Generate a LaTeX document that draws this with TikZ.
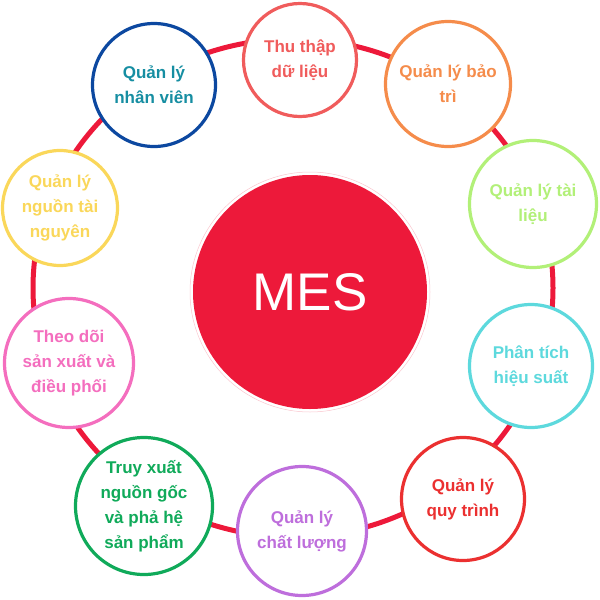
\documentclass[tikz,border=0pt]{standalone}
\usepackage{fontspec}
\setmainfont{Liberation Sans}

\definecolor{mesred}{RGB}{237,25,58}
\definecolor{cthu}{RGB}{240,92,92}
\definecolor{cbao}{RGB}{245,140,75}
\definecolor{ctai}{RGB}{178,240,120}
\definecolor{cphan}{RGB}{93,217,221}
\definecolor{cquy}{RGB}{235,48,48}
\definecolor{cchat}{RGB}{190,110,220}
\definecolor{ctruy}{RGB}{16,170,90}
\definecolor{ctheo}{RGB}{244,110,190}
\definecolor{cnguon}{RGB}{250,215,90}
\definecolor{cnhan}{RGB}{12,72,160}
\definecolor{cnhantext}{RGB}{22,142,162}

\begin{document}
\begin{tikzpicture}[x=1pt,y=-1pt,
  item/.style={circle, draw, fill=white, line width=3.2pt, align=center,
    inner sep=0pt, font=\bfseries\fontsize{17}{25}\selectfont},
  ring/.style={draw=mesred, line width=5pt}]
  \useasboundingbox (0,0) rectangle (600,600);

  % ring behind the circles
  \coordinate (ringc) at (293,288);
  \draw[ring] (ringc) ellipse [x radius=260pt, y radius=249pt];

  % centre
  \node[circle, fill=mesred, minimum size=234pt, inner sep=0pt, text=white,
    font=\fontsize{53}{60}\selectfont] (mes) at (310,292) {MES};
  \draw[mesred!25, line width=0.5pt] (mes.center) circle [radius=120pt];

  % items
  \node[item, draw=cthu, text=cthu, minimum size=113pt] (thuthap) at (300,60) {Thu thập\\dữ liệu};
  \node[item, draw=cbao, text=cbao, minimum size=125pt] (baotri) at (448,84) {Quản lý bảo\\trì};
  \node[item, draw=ctai, text=ctai, minimum size=127pt] (tailieu) at (533,204) {Quản lý tài\\liệu};
  \node[item, draw=cphan, text=cphan, minimum size=123pt] (phantich) at (531,366) {Phân tích\\hiệu suất};
  \node[item, draw=cquy, text=cquy, minimum size=123pt] (quytrinh) at (463,499) {Quản lý\\quy trình};
  \node[item, draw=cchat, text=cchat, minimum size=129pt] (chatluong) at (302,531) {Quản lý\\chất lượng};
  \node[item, draw=ctruy, text=ctruy, minimum size=137pt] (truyxuat) at (144,506) {Truy xuất\\nguồn gốc\\và phả hệ\\sản phẩm};
  \node[item, draw=ctheo, text=ctheo, minimum size=129pt] (theodoi) at (69,363) {Theo dõi\\sản xuất và\\điều phối};
  \node[item, draw=cnguon, text=cnguon, minimum size=115pt] (nguon) at (60,208) {Quản lý\\nguồn tài\\nguyên};
  \node[item, draw=cnhan, text=cnhantext, minimum size=123pt] (nhanvien) at (154,85) {Quản lý\\nhân viên};
\end{tikzpicture}
\end{document}
